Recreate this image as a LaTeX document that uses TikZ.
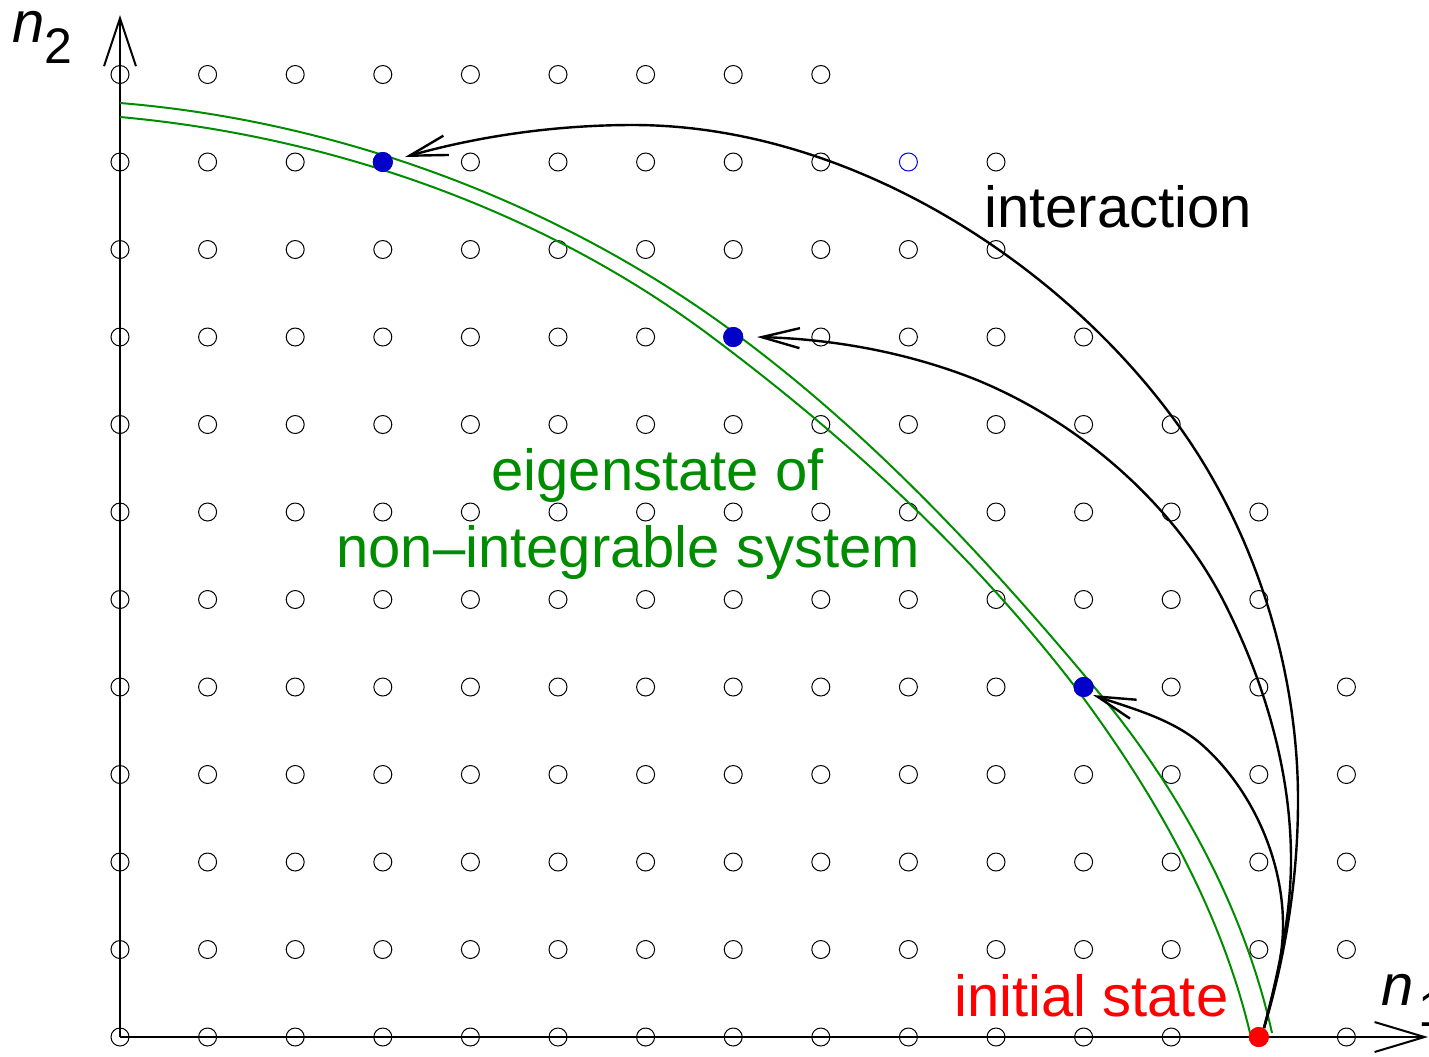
\documentclass[tikz,border=0pt]{standalone}
\usepackage{fontspec}
\setmainfont{Liberation Sans}
\usetikzlibrary{arrows.meta}
\definecolor{eig}{RGB}{0,140,0}
\definecolor{bdot}{RGB}{0,0,200}
\begin{document}
\begin{tikzpicture}[x=0.5pt,y=-0.5pt,
  lat/.style={line width=0.5pt},
  axis/.style={line width=1pt},
  eigline/.style={draw=eig, line width=1pt},
  inter/.style={line width=1.2pt, -{Straight Barb[length=19pt,width=10pt]}},
  dot/.style={circle, inner sep=0pt, minimum size=10pt},
  lbl/.style={inner sep=0pt, font=\fontsize{29pt}{34pt}\selectfont}]
\useasboundingbox (0,0) rectangle (1429,1056);
% lattice of states
\foreach \j/\m in {0/14,1/14,2/14,3/14,4/14,5/13,6/13,7/12,8/11,9/10,10/10,11/8}{
  \foreach \i in {0,...,\m}{
    \pgfmathtruncatemacro\skipit{and(\i==9,\j==10)}
    \ifnum\skipit=0
      \draw[lat] ({120+87.6*\i},{1037-87.5*\j}) circle (4.5pt);
    \fi
  }
}
% axes
\coordinate (O) at (120,1037);
\coordinate (ytip) at (120,15);
\coordinate (xtip) at (1428,1037);
\draw[axis, -{Straight Barb[length=24pt,width=16pt]}] (O) -- (ytip);
\draw[axis, -{Straight Barb[length=25pt,width=15pt]}] (O) -- (xtip);
% energy shell (two green curves)
\draw[eigline] (120,103) .. controls (340,121) and (563,204) .. (740,337)
  .. controls (874,437) and (988,560) .. (1095,688)
  .. controls (1178,787) and (1244,907) .. (1272,1033);
\draw[eigline] (120,117) .. controls (330,136) and (543,210) .. (712,337)
  .. controls (847,438) and (973,554) .. (1076,688)
  .. controls (1153,791) and (1220,907) .. (1250,1033);
% states
\node[dot, fill=red] (r) at (1258.8,1037) {};
\node[dot, fill=bdot] (b1) at (382.8,162) {};
\node[dot, fill=bdot] (b2) at (733.2,337) {};
\node[dot, fill=bdot] (b3) at (1083.6,687) {};
\coordinate (t1) at (405,157);
\coordinate (t2) at (757,337);
\coordinate (t3) at (1093,695);
% interaction arcs
\draw[inter] (r.60) .. controls (1286,954) and (1298,877) .. (1298,800)
  .. controls (1298,666) and (1253,525) .. (1173,418)
  .. controls (1055,258) and (845,125) .. (633,125)
  .. controls (556,125) and (479,136) .. (t1);
\draw[inter] (r.60) .. controls (1278,973) and (1291,917) .. (1291,860)
  .. controls (1291,770) and (1264,680) .. (1223,600)
  .. controls (1172,502) and (1079,422) .. (977,380)
  .. controls (907,352) and (832,339) .. (t2);
\draw[inter] (r.60) .. controls (1273,994) and (1283,960) .. (1283,925)
  .. controls (1283,858) and (1251,787) .. (1200,743)
  .. controls (1170,718) and (1130,708) .. (t3);
\node[dot, fill=red] at (r) {};
\node[dot, fill=bdot] at (b1) {};
\node[dot, fill=bdot] at (b2) {};
\node[dot, fill=bdot] at (b3) {};
\node[circle, draw=blue, line width=0.5pt, inner sep=0pt, minimum size=9pt] (bo) at (908.4,162) {};
% labels
\node[lbl, anchor=base west] (inter) at (984,227) {interaction};
\node[lbl, anchor=base west, text=eig] (eig1) at (491,490) {eigenstate of};
\node[lbl, anchor=base west, text=eig] (eig2) at (336,567) {non--integrable system};
\node[lbl, anchor=base west, text=red] (init) at (954,1016) {initial state};
\node[lbl, anchor=base west] (n2) at (12,42) {\itshape n\raisebox{-10.5pt}{\fontsize{25pt}{30pt}\selectfont\upshape 2}};
\node[lbl, anchor=base west] (n1) at (1381,1005) {\itshape n\kern2.5pt\raisebox{-10.5pt}{\fontsize{25pt}{30pt}\selectfont\upshape 1}};
\end{tikzpicture}
\end{document}
